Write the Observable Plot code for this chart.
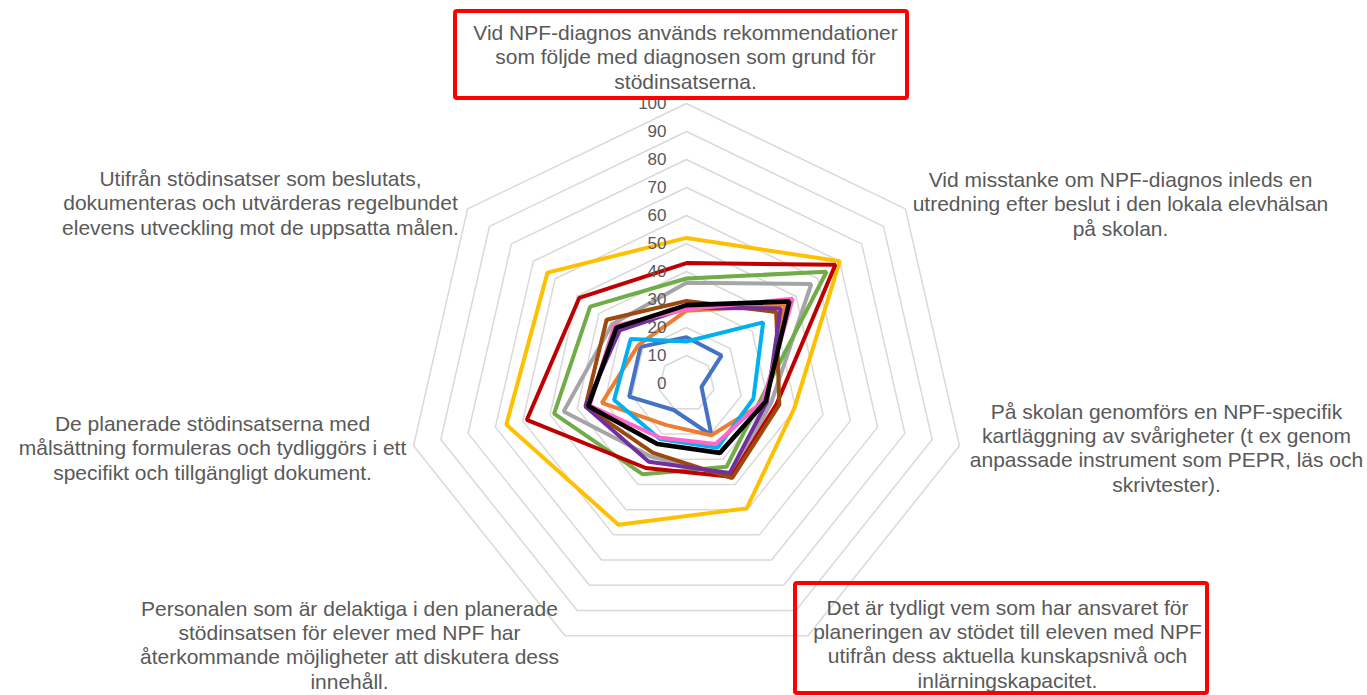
<!DOCTYPE html>
<html>
<head>
<meta charset="utf-8">
<script src="https://cdn.jsdelivr.net/npm/d3@7"></script>
<script src="https://cdn.jsdelivr.net/npm/@observablehq/plot@0.6"></script>
<style>
  html, body { margin: 0; padding: 0; background: #fff; }
  #chart svg { display: block; }
</style>
</head>
<body>
<div id="chart"></div>
<script>
// ---------- DATA ----------
const categories = [
  "Vid NPF-diagnos används rekommendationer\nsom följde med diagnosen som grund för\nstödinsatserna.",
  "Vid misstanke om NPF-diagnos inleds en\nutredning efter beslut i den lokala elevhälsan\npå skolan.",
  "På skolan genomförs en NPF-specifik\nkartläggning av svårigheter (t ex genom\nanpassade instrument som PEPR, läs och\nskrivtester).",
  "Det är tydligt vem som har ansvaret för\nplaneringen av stödet till eleven med NPF\nutifrån dess aktuella kunskapsnivå och\ninlärningskapacitet.",
  "Personalen som är delaktiga i den planerade\nstödinsatsen för elever med NPF har\nåterkommande möjligheter att diskutera dess\ninnehåll.",
  "De planerade stödinsatserna med\nmålsättning formuleras och tydliggörs i ett\nspecifikt och tillgängligt dokument.",
  "Utifrån stödinsatser som beslutats,\ndokumenteras och utvärderas regelbundet\nelevens utveckling mot de uppsatta målen."
];
const highlighted = [0, 3];            // categories framed in red
const tickValues = [0, 10, 20, 30, 40, 50, 60, 70, 80, 90, 100];

const seriesNames = ["Serie 1", "Serie 2", "Serie 3", "Serie 4", "Serie 5", "Serie 6",
                     "Serie 7", "Serie 8", "Serie 9", "Serie 10", "Serie 11"];
const seriesColors = ["#4472C4", "#ED7D31", "#A5A5A5", "#FFC000", "#00B0F0", "#70AD47",
                      "#C00000", "#9E480E", "#7030A0", "#FF66CC", "#000000"];

const serie1  = [16.5, 16, 5.5, 20.5, 10.5, 21, 21];
const serie2  = [26, 45, 29, 20.5, 16.5, 31, 22];
const serie3  = [36, 57, 31, 37, 29, 45, 34];
const serie4  = [52, 70, 39.5, 49.5, 56, 66, 63.5];
const serie5  = [15, 35, 24.5, 25.5, 22, 26.5, 25.5];
const serie6  = [37.5, 64, 27, 33, 36, 48.5, 44];
const serie7  = [43, 68, 33, 37, 33.5, 58.5, 49];
const serie8  = [29.5, 41, 34, 37.5, 27.5, 37, 36.5];
const serie9  = [27, 43, 29.5, 35.5, 31, 37, 30.5];
const serie10 = [26.5, 48.5, 28, 24, 21.5, 35.5, 33];
const serie11 = [28, 47, 29, 27.5, 24, 36, 32];
const seriesValues = [serie1, serie2, serie3, serie4, serie5, serie6,
                      serie7, serie8, serie9, serie10, serie11];

// ---------- LAYOUT ----------
const W = 1367, H = 695;
const CX = 686, CY = 383, PX_PER_UNIT = 2.8;
const font = "'Liberation Sans', Arial, sans-serif";
const textColor = "#595959";

// label centers (pixels) and red boxes (pixels) — layout only
const labelCenters = [[685, 56], [1120, 203], [1166, 447], [1007, 643], [349, 644], [212, 447], [260, 202]];
const boxes = {0: [455, 11, 907, 98], 3: [795, 583, 1207, 693]};

const n = categories.length;
const angle = k => (2 * Math.PI * k) / n;
const polar = (k, v) => ({x: v * Math.sin(angle(k)), y: v * Math.cos(angle(k))});
const toX = px => (px - CX) / PX_PER_UNIT;
const toY = py => (CY - py) / PX_PER_UNIT;

// grid rings
const ringRows = [];
for (const t of tickValues.filter(t => t > 0)) {
  for (let k = 0; k < n; ++k) ringRows.push({ring: t, ...polar(k, t)});
}

// series rows
const seriesRows = seriesNames.map((name, i) =>
  seriesValues[i].map((v, k) => ({series: name, k, value: v, ...polar(k, v)}))
);

const labelRows = categories.map((c, k) => ({text: c, x: toX(labelCenters[k][0]), y: toY(labelCenters[k][1])}));
const boxRows = highlighted.map(k => {
  const [x1, y1, x2, y2] = boxes[k];
  return {x1: toX(x1), x2: toX(x2), y1: toY(y2), y2: toY(y1)};
});

const marks = [
  Plot.line(ringRows, {x: "x", y: "y", z: "ring", stroke: "#D9D9D9", strokeWidth: 1.5, curve: "linear-closed"}),
  ...seriesRows.map((rows, i) =>
    Plot.line(rows, {x: "x", y: "y", stroke: "series", curve: "linear-closed",
      strokeWidth: seriesNames[i] === "Serie 11" ? 4.6 : 4, strokeLinejoin: "miter"})
  ),
  Plot.text(tickValues, {x: 0, y: d => d, text: d => String(d), textAnchor: "end", dx: -20,
    fontSize: 17, fill: textColor}),
  Plot.text(labelRows, {x: "x", y: "y", text: "text", fontSize: 21, lineHeight: 1.16, fill: textColor}),
  Plot.rect(boxRows, {x1: "x1", x2: "x2", y1: "y1", y2: "y2", fill: "none", stroke: "#FF0000", strokeWidth: 4, rx: 2})
];

const chart = Plot.plot({
  width: W,
  height: H,
  margin: 0,
  style: {fontFamily: font, background: "#fff"},
  x: {domain: [toX(0), toX(W)], axis: null},
  y: {domain: [toY(H), toY(0)], axis: null},
  color: {domain: seriesNames, range: seriesColors},
  marks
});
document.getElementById("chart").appendChild(chart);
</script>
</body>
</html>
